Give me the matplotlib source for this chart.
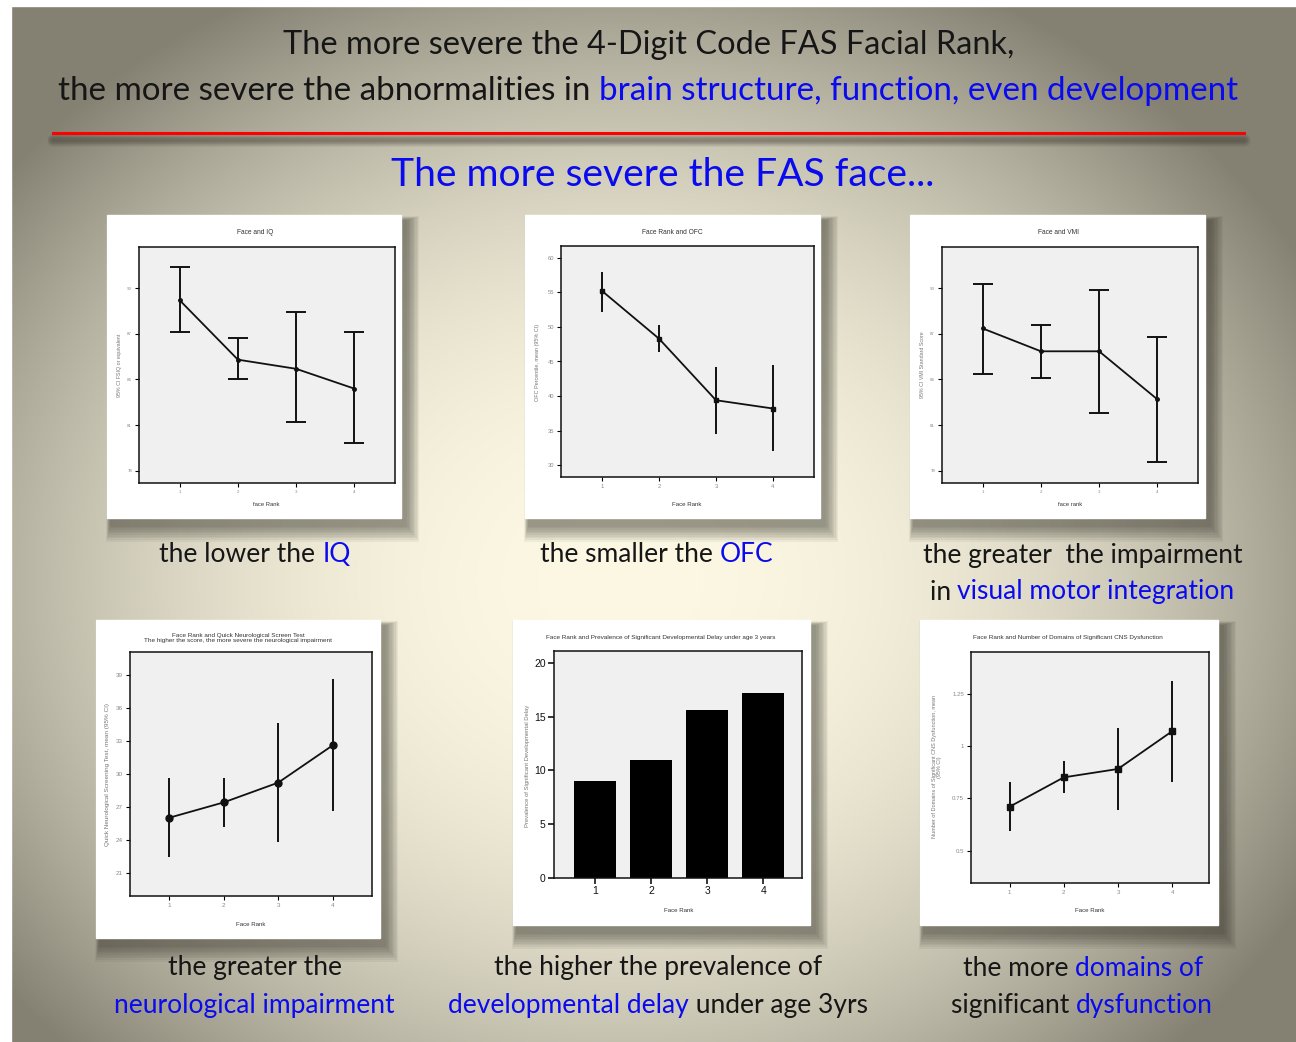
import numpy as np
import matplotlib
matplotlib.use("Agg")
import matplotlib.pyplot as plt
from matplotlib.patches import Rectangle

# ---- data ----
ranks = [1, 2, 3, 4]

iq_mean = [89.2, 85.3, 84.7, 83.4]
iq_lo = [87.1, 84.0, 81.2, 79.8]
iq_hi = [91.4, 86.7, 88.4, 87.1]

ofc_mean = [55.2, 48.3, 39.4, 38.2]
ofc_lo = [52.2, 46.4, 34.5, 32.0]
ofc_hi = [57.9, 50.3, 44.2, 44.5]

vmi_mean = [87.35, 85.85, 85.85, 82.7]
vmi_lo = [84.35, 84.1, 81.8, 78.6]
vmi_hi = [90.3, 87.6, 89.9, 86.8]

qnst_mean = [26.0, 27.4, 29.2, 32.6]
qnst_lo = [22.4, 25.15, 23.75, 26.6]
qnst_hi = [29.65, 29.65, 34.65, 38.65]

delay_pct = [9.0, 11.0, 15.6, 17.2]

cns_mean = [0.71, 0.85, 0.89, 1.07]
cns_lo = [0.595, 0.775, 0.695, 0.827]
cns_hi = [0.827, 0.93, 1.084, 1.31]

iq_ticks = [78, 81, 84, 87, 90]
ofc_ticks = [30, 35, 40, 45, 50, 55, 60]
qnst_ticks = [21, 24, 27, 30, 33, 36, 39]
delay_ticks = [0, 5, 10, 15, 20]
cns_ticks = [0.5, 0.75, 1, 1.25]
cns_ticklabels = ["0.5", "0.75", "1", "1.25"]

W, H = 1296, 1042
BLUE = "#0a0aee"
BLACK = "#161616"
SLIDE_FONT = ["Lato", "DejaVu Sans"]
CHART_FONT = ["Liberation Sans", "DejaVu Sans"]

fig = plt.figure(figsize=(W / 100, H / 100), dpi=100)
bg = fig.add_axes([0, 0, 1, 1])
bg.set_xlim(0, W)
bg.set_ylim(H, 0)
bg.axis("off")

# radial background of the slide
yy, xx = np.mgrid[0:H, 0:W]
d = np.sqrt(((xx - 620) / 780.0) ** 2 + ((yy - 580) / 660.0) ** 2)
d = np.clip(d, 0, 1) ** 2.2
c_in = np.array([0.988, 0.972, 0.89])
c_out = np.array([0.52, 0.505, 0.45])
img = c_in[None, None, :] * (1 - d[..., None]) + c_out[None, None, :] * d[..., None]
bg.imshow(img, extent=[0, W, H, 0], aspect="auto", zorder=0)
bg.add_patch(Rectangle((0, 0), W, 6, color="white", zorder=1))
bg.add_patch(Rectangle((0, 0), 11, H, color="white", zorder=1))

renderer = fig.canvas.get_renderer()


def measure(s, size):
    t = bg.text(0, 0, s + "l", fontsize=size, family=SLIDE_FONT)
    w1 = t.get_window_extent(renderer).width
    t.remove()
    t = bg.text(0, 0, "l", fontsize=size, family=SLIDE_FONT)
    w0 = t.get_window_extent(renderer).width
    t.remove()
    return w1 - w0


def rich(xc, y, parts, size):
    full = "".join(p for p, _ in parts)
    x0 = xc - measure(full, size) / 2
    prefix = ""
    for s, c in parts:
        bg.text(x0 + measure(prefix, size), y, s, color=c, fontsize=size,
                family=SLIDE_FONT, ha="left", va="center", zorder=5)
        prefix += s


# headline
rich(649, 45, [("The more severe the 4-Digit Code FAS Facial Rank,", BLACK)], 23.4)
rich(648, 91, [("the more severe the abnormalities in ", BLACK),
               ("brain structure, function, even development", BLUE)], 23.9)
for k in range(8):
    bg.plot([53, 1244], [140, 140], color="#3a382e", lw=9 - k, alpha=0.07,
            solid_capstyle="round", zorder=2)
bg.plot([53, 1244], [132.5, 132.5], color="#ff0000", lw=2.2, zorder=3)
rich(663, 175, [("The more severe the FAS face...", BLUE)], 28.1)


def card(x0, y0, x1, y1):
    for k in range(10):
        e = 16 - k * 1.5
        bg.add_patch(Rectangle((x0 + 4 - e * 0.3, y0 + 6 - e * 0.3),
                               x1 - x0 + e * 1.2, y1 - y0 + e * 1.4,
                               color="#2d2b22", alpha=0.06, lw=0, zorder=2))
    bg.add_patch(Rectangle((x0, y0), x1 - x0, y1 - y0, color="white", zorder=3))


def chart_axes(x0, y0, x1, y1, xlim, ylim, yticks, tick_size, tick_color="#8a8a8a"):
    ax = fig.add_axes([x0 / W, 1 - y1 / H, (x1 - x0) / W, (y1 - y0) / H])
    ax.set_facecolor("#f0f0f0")
    for sp in ax.spines.values():
        sp.set_linewidth(1.1)
        sp.set_color("#111111")
    ax.set_xlim(*xlim)
    ax.set_ylim(*ylim)
    ax.set_xticks(ranks)
    ax.set_yticks(yticks)
    ax.tick_params(direction="out", length=3, width=0.8, pad=2,
                   labelsize=tick_size, labelcolor=tick_color)
    for lab in ax.get_xticklabels() + ax.get_yticklabels():
        lab.set_family(CHART_FONT)
    return ax


def small(x, y, s, size=4.8, rot=0, color="#333333"):
    bg.text(x, y, s, fontsize=size, family=CHART_FONT, ha="center", va="center",
            rotation=rot, color=color, zorder=5, linespacing=1.0)


def ci_plot(ax, mean, lo, hi, marker, ms, capsize):
    m = np.array(mean)
    err = [m - np.array(lo), np.array(hi) - m]
    ax.errorbar(ranks, m, yerr=err, fmt="none", ecolor="#111111", elinewidth=1.4,
                capsize=capsize, capthick=1.4)
    ax.plot(ranks, m, color="#111111", lw=1.3, marker=marker, ms=ms)


# panel 1 : IQ
card(107, 215, 401, 518)
a1 = chart_axes(139, 247, 395, 483, (0.3, 4.7), (77.2, 92.7), iq_ticks, 3.2)
ci_plot(a1, iq_mean, iq_lo, iq_hi, "o", 2.5, 7)
small(255, 232, "Face and IQ")
small(120, 365, "95% CI FSIQ or equivalent", 3.8, 90, "#777777")
small(266, 504, "face Rank", 4.2)

# panel 2 : OFC
card(525, 215, 820, 518)
a2 = chart_axes(561, 246, 814, 477, (0.28, 4.72), (28.3, 61.7), ofc_ticks, 4.2)
ci_plot(a2, ofc_mean, ofc_lo, ofc_hi, "s", 3.5, 0)
small(672, 232, "Face Rank and OFC")
small(538, 362, "OFC Percentile, mean (95% CI)", 4.0, 90, "#777777")
small(687, 504, "Face Rank", 4.4)

# panel 3 : VMI
card(910, 215, 1205, 518)
a3 = chart_axes(942, 247, 1198, 483, (0.3, 4.7), (77.2, 92.7), iq_ticks, 3.2)
ci_plot(a3, vmi_mean, vmi_lo, vmi_hi, "o", 2.5, 7)
small(1058, 232, "Face and VMI")
small(923, 365, "95% CI VMI Standard Score", 3.8, 90, "#777777")
small(1070, 504, "face rank", 4.2)

# panel 4 : QNST
card(96, 620, 380, 938)
a4 = chart_axes(130, 652, 372, 896, (0.28, 4.72), (18.87, 41.1), qnst_ticks, 4.6)
ci_plot(a4, qnst_mean, qnst_lo, qnst_hi, "o", 5, 0)
small(238, 638, "Face Rank and Quick Neurological Screen Test\n"
      "The higher the score, the more severe the neurological impairment", 4.6)
small(108, 774, "Quick Neurological Screening Test, mean (95% CI)", 4.6, 90, "#777777")
small(251, 924, "Face Rank", 4.4)

# panel 5 : developmental delay
card(513, 620, 810, 925)
a5 = chart_axes(554, 651, 802, 878, (0.27, 4.69), (0, 21.1), delay_ticks, 7.5, "#111111")
a5.bar(ranks, delay_pct, width=0.75, color="black")
a5.tick_params(length=4, width=1.1)
small(661, 638, "Face Rank and Prevalence of Significant Developmental Delay under age 3 years", 4.6)
small(528, 766, "Prevalence of Significant Developmental Delay", 4.2, 90, "#777777")
small(679, 910, "Face Rank", 4.4)

# panel 6 : CNS domains
card(920, 620, 1218, 925)
a6 = chart_axes(971, 652, 1209, 883, (0.287, 4.68), (0.346, 1.448), cns_ticks, 4.4)
a6.set_yticklabels(cns_ticklabels)
ci_plot(a6, cns_mean, cns_lo, cns_hi, "s", 5, 0)
small(1068, 637, "Face Rank and Number of Domains of Significant CNS Dysfunction", 4.6)
small(937, 767, "Number of Domains of Significant CNS Dysfunction, mean\n(95% CI)",
      4.0, 90, "#777777")
small(1090, 910, "Face Rank", 4.4)

# captions
CAP = 19
rich(255, 555, [("the lower the ", BLACK), ("IQ", BLUE)], CAP)
rich(657, 555, [("the smaller the ", BLACK), ("OFC", BLUE)], CAP)
rich(1083, 555, [("the greater  the impairment", BLACK)], CAP)
rich(1082, 592, [("in ", BLACK), ("visual motor integration", BLUE)], CAP)
rich(255, 968, [("the greater the", BLACK)], CAP)
rich(254, 1006, [("neurological impairment", BLUE)], CAP)
rich(658, 968, [("the higher the prevalence of", BLACK)], CAP)
rich(658, 1006, [("developmental delay", BLUE), (" under age 3yrs", BLACK)], CAP)
rich(1083, 968, [("the more ", BLACK), ("domains of", BLUE)], CAP)
rich(1082, 1006, [("significant ", BLACK), ("dysfunction", BLUE)], CAP)

fig.savefig("out.png", dpi=100)
